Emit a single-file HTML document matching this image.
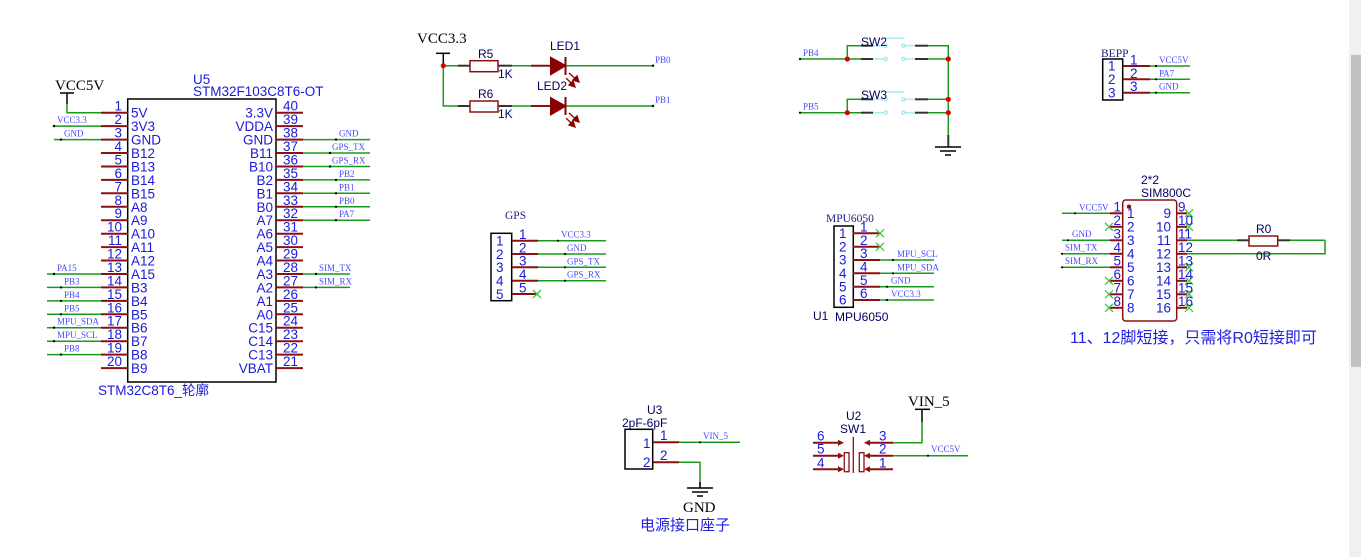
<!DOCTYPE html>
<html><head><meta charset="utf-8"><style>
html,body{margin:0;padding:0;background:#fff;width:1361px;height:557px;overflow:hidden}
svg{display:block}
.pn{font-family:"Liberation Sans",sans-serif;font-size:13.5px;fill:#1a1ad8}
.nm{font-family:"Liberation Sans",sans-serif;font-size:13.5px;fill:#1a1ad8}
.lb{font-family:"Liberation Serif",serif;font-size:9px;fill:#4a4aff}
.hd{font-family:"Liberation Serif",serif;font-size:11.5px;fill:#202080}
.bk{font-family:"Liberation Serif",serif;font-size:15px;fill:#000}
.dk{font-family:"Liberation Sans",sans-serif;font-size:12px;fill:#000060}
.cn{font-family:"Liberation Sans","Noto Sans CJK SC",sans-serif;fill:#2020e0}
.r{stroke:#8b1010;stroke-width:2;fill:none}
.g{stroke:#1a9a1a;stroke-width:1.5;fill:none}
.k{stroke:#000;stroke-width:1.5;fill:none}
.gy{stroke:#333;stroke-width:2;fill:none}
.cy{stroke:#a8ecf0;stroke-width:1.5;fill:none}
.x{stroke:#3ac83a;stroke-width:1.3}
</style></head><body>
<svg width="1361" height="557" xmlns="http://www.w3.org/2000/svg">
<rect x="1349" y="0" width="12" height="557" fill="#f0f0f0"/>
<rect x="1351" y="55" width="10" height="312" fill="#c1c1c1"/>

<!-- ===== STM32 ===== -->
<text class="bk" x="55" y="90">VCC5V</text>
<line class="k" x1="60" y1="93" x2="74" y2="93"/>
<line class="k" x1="67" y1="93" x2="67" y2="104"/>
<polyline class="g" points="67,104 67,112.7 101,112.7"/>
<text class="nm" x="193" y="84">U5</text>
<text class="nm" x="193" y="96">STM32F103C8T6-OT</text>
<rect x="127.7" y="99" width="148.3" height="283" fill="none" stroke="#000" stroke-width="1.5"/>
<text class="nm" x="98" y="395">STM32C8T6_轮廓</text>
<g class="r">
<line x1="101" y1="112.7" x2="128" y2="112.7"/><line x1="101" y1="126.1" x2="128" y2="126.1"/><line x1="101" y1="139.6" x2="128" y2="139.6"/><line x1="101" y1="153" x2="128" y2="153"/><line x1="101" y1="166.5" x2="128" y2="166.5"/><line x1="101" y1="179.9" x2="128" y2="179.9"/><line x1="101" y1="193.3" x2="128" y2="193.3"/><line x1="101" y1="206.8" x2="128" y2="206.8"/><line x1="101" y1="220.2" x2="128" y2="220.2"/><line x1="101" y1="233.7" x2="128" y2="233.7"/><line x1="101" y1="247.1" x2="128" y2="247.1"/><line x1="101" y1="260.5" x2="128" y2="260.5"/><line x1="101" y1="274" x2="128" y2="274"/><line x1="101" y1="287.4" x2="128" y2="287.4"/><line x1="101" y1="300.9" x2="128" y2="300.9"/><line x1="101" y1="314.3" x2="128" y2="314.3"/><line x1="101" y1="327.7" x2="128" y2="327.7"/><line x1="101" y1="341.2" x2="128" y2="341.2"/><line x1="101" y1="354.6" x2="128" y2="354.6"/><line x1="101" y1="368.1" x2="128" y2="368.1"/>
<line x1="276" y1="112.7" x2="303" y2="112.7"/><line x1="276" y1="126.1" x2="303" y2="126.1"/><line x1="276" y1="139.6" x2="303" y2="139.6"/><line x1="276" y1="153" x2="303" y2="153"/><line x1="276" y1="166.5" x2="303" y2="166.5"/><line x1="276" y1="179.9" x2="303" y2="179.9"/><line x1="276" y1="193.3" x2="303" y2="193.3"/><line x1="276" y1="206.8" x2="303" y2="206.8"/><line x1="276" y1="220.2" x2="303" y2="220.2"/><line x1="276" y1="233.7" x2="303" y2="233.7"/><line x1="276" y1="247.1" x2="303" y2="247.1"/><line x1="276" y1="260.5" x2="303" y2="260.5"/><line x1="276" y1="274" x2="303" y2="274"/><line x1="276" y1="287.4" x2="303" y2="287.4"/><line x1="276" y1="300.9" x2="303" y2="300.9"/><line x1="276" y1="314.3" x2="303" y2="314.3"/><line x1="276" y1="327.7" x2="303" y2="327.7"/><line x1="276" y1="341.2" x2="303" y2="341.2"/><line x1="276" y1="354.6" x2="303" y2="354.6"/><line x1="276" y1="368.1" x2="303" y2="368.1"/>
</g>
<g class="pn" text-anchor="end">
<text x="122" y="110.7">1</text><text x="122" y="124.1">2</text><text x="122" y="137.6">3</text><text x="122" y="151">4</text><text x="122" y="164.5">5</text><text x="122" y="177.9">6</text><text x="122" y="191.3">7</text><text x="122" y="204.8">8</text><text x="122" y="218.2">9</text><text x="122" y="231.7">10</text><text x="122" y="245.1">11</text><text x="122" y="258.5">12</text><text x="122" y="272">13</text><text x="122" y="285.4">14</text><text x="122" y="298.9">15</text><text x="122" y="312.3">16</text><text x="122" y="325.7">17</text><text x="122" y="339.2">18</text><text x="122" y="352.6">19</text><text x="122" y="366.1">20</text>
</g>
<g class="pn">
<text x="283" y="110.7">40</text><text x="283" y="124.1">39</text><text x="283" y="137.6">38</text><text x="283" y="151">37</text><text x="283" y="164.5">36</text><text x="283" y="177.9">35</text><text x="283" y="191.3">34</text><text x="283" y="204.8">33</text><text x="283" y="218.2">32</text><text x="283" y="231.7">31</text><text x="283" y="245.1">30</text><text x="283" y="258.5">29</text><text x="283" y="272">28</text><text x="283" y="285.4">27</text><text x="283" y="298.9">26</text><text x="283" y="312.3">25</text><text x="283" y="325.7">24</text><text x="283" y="339.2">23</text><text x="283" y="352.6">22</text><text x="283" y="366.1">21</text>
</g>
<g class="nm">
<text x="131" y="117.7">5V</text><text x="131" y="131.1">3V3</text><text x="131" y="144.6">GND</text><text x="131" y="158">B12</text><text x="131" y="171.5">B13</text><text x="131" y="184.9">B14</text><text x="131" y="198.3">B15</text><text x="131" y="211.8">A8</text><text x="131" y="225.2">A9</text><text x="131" y="238.7">A10</text><text x="131" y="252.1">A11</text><text x="131" y="265.5">A12</text><text x="131" y="279">A15</text><text x="131" y="292.4">B3</text><text x="131" y="305.9">B4</text><text x="131" y="319.3">B5</text><text x="131" y="332.7">B6</text><text x="131" y="346.2">B7</text><text x="131" y="359.6">B8</text><text x="131" y="373.1">B9</text>
</g>
<g class="nm" text-anchor="end">
<text x="273" y="117.7">3.3V</text><text x="273" y="131.1">VDDA</text><text x="273" y="144.6">GND</text><text x="273" y="158">B11</text><text x="273" y="171.5">B10</text><text x="273" y="184.9">B2</text><text x="273" y="198.3">B1</text><text x="273" y="211.8">B0</text><text x="273" y="225.2">A7</text><text x="273" y="238.7">A6</text><text x="273" y="252.1">A5</text><text x="273" y="265.5">A4</text><text x="273" y="279">A3</text><text x="273" y="292.4">A2</text><text x="273" y="305.9">A1</text><text x="273" y="319.3">A0</text><text x="273" y="332.7">C15</text><text x="273" y="346.2">C14</text><text x="273" y="359.6">C13</text><text x="273" y="373.1">VBAT</text>
</g>
<g class="g">
<line x1="54" y1="126.1" x2="101" y2="126.1"/><line x1="54" y1="139.6" x2="101" y2="139.6"/>
<line x1="47" y1="274" x2="101" y2="274"/><line x1="47" y1="287.4" x2="101" y2="287.4"/><line x1="47" y1="300.9" x2="101" y2="300.9"/><line x1="47" y1="314.3" x2="101" y2="314.3"/><line x1="47" y1="327.7" x2="101" y2="327.7"/><line x1="47" y1="341.2" x2="101" y2="341.2"/><line x1="47" y1="354.6" x2="101" y2="354.6"/>
<line x1="303" y1="139.6" x2="370" y2="139.6"/><line x1="303" y1="153" x2="370" y2="153"/><line x1="303" y1="166.5" x2="370" y2="166.5"/><line x1="303" y1="179.9" x2="370" y2="179.9"/><line x1="303" y1="193.3" x2="370" y2="193.3"/><line x1="303" y1="206.8" x2="370" y2="206.8"/><line x1="303" y1="220.2" x2="370" y2="220.2"/>
<line x1="303" y1="274" x2="350" y2="274"/><line x1="303" y1="287.4" x2="350" y2="287.4"/>
</g>
<g fill="#000">
<circle cx="54" cy="126.1" r="1.2"/><circle cx="61" cy="139.6" r="1.2"/><circle cx="54" cy="274" r="1.2"/><circle cx="61" cy="287.4" r="1.2"/><circle cx="61" cy="300.9" r="1.2"/><circle cx="61" cy="314.3" r="1.2"/><circle cx="54" cy="327.7" r="1.2"/><circle cx="54" cy="341.2" r="1.2"/><circle cx="61" cy="354.6" r="1.2"/>
<circle cx="336" cy="139.6" r="1.2"/><circle cx="330" cy="153" r="1.2"/><circle cx="330" cy="166.5" r="1.2"/><circle cx="336" cy="179.9" r="1.2"/><circle cx="336" cy="193.3" r="1.2"/><circle cx="336" cy="206.8" r="1.2"/><circle cx="336" cy="220.2" r="1.2"/><circle cx="316" cy="274" r="1.2"/><circle cx="316" cy="287.4" r="1.2"/>
</g>
<g class="lb">
<text x="57" y="123">VCC3.3</text><text x="64" y="136.5">GND</text>
<text x="57" y="271">PA15</text><text x="64" y="284.4">PB3</text><text x="64" y="297.9">PB4</text><text x="64" y="311.3">PB5</text><text x="57" y="324.7">MPU_SDA</text><text x="57" y="338.2">MPU_SCL</text><text x="64" y="351.6">PB8</text>
<text x="339" y="136.5">GND</text><text x="332" y="150">GPS_TX</text><text x="332" y="163.5">GPS_RX</text><text x="339" y="176.9">PB2</text><text x="339" y="190.3">PB1</text><text x="339" y="203.8">PB0</text><text x="339" y="217.2">PA7</text>
<text x="319" y="271">SIM_TX</text><text x="319" y="284.4">SIM_RX</text>
</g>

<!-- ===== LEDs ===== -->
<text class="bk" x="417" y="43">VCC3.3</text>
<line class="k" x1="436" y1="53.3" x2="450" y2="53.3"/>
<line class="k" x1="443.3" y1="53.3" x2="443.3" y2="65.7"/>
<polyline class="g" points="458,65.7 443.3,65.7 443.3,106 458,106"/>
<circle cx="443.3" cy="65.7" r="2.6" fill="#d00"/>
<g class="gy"><line x1="458" y1="65.7" x2="470" y2="65.7"/><line x1="498" y1="65.7" x2="512" y2="65.7"/><line x1="458" y1="106" x2="470" y2="106"/><line x1="498" y1="106" x2="512" y2="106"/></g>
<rect x="470" y="60.7" width="28" height="11" fill="none" stroke="#8b1010" stroke-width="1.5"/>
<rect x="470" y="101" width="28" height="11" fill="none" stroke="#8b1010" stroke-width="1.5"/>
<g class="g"><line x1="512" y1="65.7" x2="531" y2="65.7"/><line x1="512" y1="106" x2="531" y2="106"/><line x1="566" y1="65.7" x2="653" y2="65.7"/><line x1="566" y1="106" x2="653" y2="106"/></g>
<g class="r"><line x1="531" y1="65.7" x2="566" y2="65.7"/><line x1="531" y1="106" x2="566" y2="106"/></g>
<g fill="#8b0000" stroke="#8b0000" stroke-width="2">
<polygon points="551,58 551,74 565,65.7"/><line x1="565.5" y1="57" x2="565.5" y2="75"/>
<polygon points="551,98.3 551,114.3 565,106"/><line x1="565.5" y1="97" x2="565.5" y2="115"/>
</g>
<g stroke="#8b0000" stroke-width="1.3" fill="#8b0000">
<line x1="569" y1="73" x2="577" y2="80"/><polygon points="579,82 573,80 577,76"/>
<line x1="566" y1="78" x2="573" y2="85"/><polygon points="575,87 569,85 573,81"/>
<line x1="569" y1="113" x2="577" y2="120"/><polygon points="579,122 573,120 577,116"/>
<line x1="566" y1="118" x2="573" y2="125"/><polygon points="575,127 569,125 573,121"/>
</g>
<circle cx="653" cy="65.7" r="1.2"/><circle cx="653" cy="106" r="1.2"/>
<g class="dk" font-size="12"><text x="478" y="58">R5</text><text x="498" y="78">1K</text><text x="478" y="98">R6</text><text x="498" y="118">1K</text><text x="550" y="50">LED1</text><text x="537" y="90">LED2</text></g>
<g class="lb"><text x="655" y="63">PB0</text><text x="655" y="103">PB1</text></g>

<!-- ===== Switches ===== -->
<g class="g">
<line x1="800" y1="59" x2="861" y2="59"/><polyline points="847.3,59 847.3,45.7 861,45.7"/>
<polyline points="928,45.7 948.3,45.7 948.3,135"/><line x1="928" y1="59" x2="948.3" y2="59"/>
<line x1="800" y1="112.7" x2="861" y2="112.7"/><polyline points="847.3,112.7 847.3,99.3 861,99.3"/>
<line x1="928" y1="99.3" x2="948.3" y2="99.3"/><line x1="928" y1="112.7" x2="948.3" y2="112.7"/>
</g>
<g class="gy"><line x1="861" y1="45.7" x2="873" y2="45.7"/><line x1="861" y1="59" x2="873" y2="59"/><line x1="915" y1="45.7" x2="928" y2="45.7"/><line x1="915" y1="59" x2="928" y2="59"/>
<line x1="861" y1="99.3" x2="873" y2="99.3"/><line x1="861" y1="112.7" x2="873" y2="112.7"/><line x1="915" y1="99.3" x2="928" y2="99.3"/><line x1="915" y1="112.7" x2="928" y2="112.7"/>
<line x1="948.3" y1="135" x2="948.3" y2="147"/></g>
<g class="cy">
<line x1="873" y1="45.7" x2="884" y2="45.7"/><line x1="905" y1="45.7" x2="915" y2="45.7"/><circle cx="885.7" cy="45.7" r="1.6"/><circle cx="903.3" cy="45.7" r="1.6"/>
<line x1="873" y1="59" x2="884" y2="59"/><line x1="905" y1="59" x2="915" y2="59"/><circle cx="885.7" cy="59" r="1.6"/><circle cx="903.3" cy="59" r="1.6"/>
<line x1="873" y1="99.3" x2="884" y2="99.3"/><line x1="905" y1="99.3" x2="915" y2="99.3"/><circle cx="885.7" cy="99.3" r="1.6"/><circle cx="903.3" cy="99.3" r="1.6"/>
<line x1="873" y1="112.7" x2="884" y2="112.7"/><line x1="905" y1="112.7" x2="915" y2="112.7"/><circle cx="885.7" cy="112.7" r="1.6"/><circle cx="903.3" cy="112.7" r="1.6"/>
<line x1="885" y1="38.3" x2="904" y2="38.3"/><line x1="885" y1="92" x2="904" y2="92"/>
</g>
<g fill="#d00"><circle cx="847.3" cy="59" r="2.6"/><circle cx="948.3" cy="59" r="2.6"/><circle cx="948.3" cy="99.3" r="2.6"/><circle cx="948.3" cy="112.7" r="2.6"/><circle cx="847.3" cy="112.7" r="2.6"/></g>
<g class="k" stroke-width="1.3"><line x1="935" y1="147" x2="961" y2="147"/><line x1="940" y1="151" x2="956" y2="151"/><line x1="945" y1="155" x2="951" y2="155"/></g>
<circle cx="800" cy="59" r="1.1"/><circle cx="800" cy="112.7" r="1.1"/>
<g class="dk"><text x="861" y="46">SW2</text><text x="861" y="99">SW3</text></g>
<g class="lb"><text x="803" y="56">PB4</text><text x="803" y="109.7">PB5</text></g>

<!-- ===== BEPP ===== -->
<text class="hd" x="1101" y="57">BEPP</text>
<rect x="1102.7" y="59" width="20" height="41" fill="none" stroke="#000" stroke-width="1.5"/>
<g class="r"><line x1="1123" y1="66" x2="1150" y2="66"/><line x1="1123" y1="79.3" x2="1150" y2="79.3"/><line x1="1123" y1="92.7" x2="1150" y2="92.7"/></g>
<g class="g"><line x1="1150" y1="66" x2="1190" y2="66"/><line x1="1150" y1="79.3" x2="1190" y2="79.3"/><line x1="1150" y1="92.7" x2="1190" y2="92.7"/></g>
<g fill="#000"><circle cx="1156" cy="66" r="1.1"/><circle cx="1156" cy="79.3" r="1.1"/><circle cx="1156" cy="92.7" r="1.1"/></g>
<g class="pn"><text x="1108" y="70.5">1</text><text x="1108" y="84">2</text><text x="1108" y="97.5">3</text><text x="1130" y="64.5">1</text><text x="1130" y="77.8">2</text><text x="1130" y="91.2">3</text></g>
<g class="lb"><text x="1159" y="63">VCC5V</text><text x="1159" y="76.3">PA7</text><text x="1159" y="89.7">GND</text></g>

<!-- ===== SIM800C ===== -->
<text class="dk" x="1141" y="184">2*2</text>
<text class="dk" x="1141" y="197">SIM800C</text>
<rect x="1122.7" y="200" width="54" height="121" rx="3" fill="none" stroke="#8b1010" stroke-width="1.5"/>
<circle cx="1129" cy="206.7" r="2.2" fill="#8b1010"/>
<g class="r">
<line x1="1110" y1="213.3" x2="1123" y2="213.3"/><line x1="1110" y1="226.8" x2="1123" y2="226.8"/><line x1="1110" y1="240.3" x2="1123" y2="240.3"/><line x1="1110" y1="253.8" x2="1123" y2="253.8"/><line x1="1110" y1="267.3" x2="1123" y2="267.3"/><line x1="1110" y1="280.8" x2="1123" y2="280.8"/><line x1="1110" y1="294.3" x2="1123" y2="294.3"/><line x1="1110" y1="307.8" x2="1123" y2="307.8"/>
<line x1="1177" y1="213.3" x2="1187" y2="213.3"/><line x1="1177" y1="226.8" x2="1187" y2="226.8"/><line x1="1177" y1="240.3" x2="1187" y2="240.3"/><line x1="1177" y1="253.8" x2="1187" y2="253.8"/><line x1="1177" y1="267.3" x2="1187" y2="267.3"/><line x1="1177" y1="280.8" x2="1187" y2="280.8"/><line x1="1177" y1="294.3" x2="1187" y2="294.3"/><line x1="1177" y1="307.8" x2="1187" y2="307.8"/>
</g>
<g class="g">
<line x1="1062" y1="213.3" x2="1110" y2="213.3"/><line x1="1062" y1="240.3" x2="1110" y2="240.3"/><line x1="1062" y1="253.8" x2="1110" y2="253.8"/><line x1="1062" y1="267.3" x2="1110" y2="267.3"/>
<line x1="1187" y1="240.3" x2="1237" y2="240.3"/><line x1="1290" y1="240.3" x2="1325" y2="240.3"/><polyline points="1325,240.3 1325,253.8 1187,253.8"/>
</g>
<g class="gy"><line x1="1237" y1="240.3" x2="1249" y2="240.3"/><line x1="1278" y1="240.3" x2="1290" y2="240.3"/></g>
<rect x="1249" y="236" width="28.7" height="10" fill="none" stroke="#8b1010" stroke-width="1.5"/>
<g fill="#000"><circle cx="1075" cy="213.3" r="1.1"/><circle cx="1068" cy="240.3" r="1.1"/><circle cx="1062" cy="253.8" r="1.1"/><circle cx="1062" cy="267.3" r="1.1"/></g>
<g class="lb"><text x="1079" y="210.5">VCC5V</text><text x="1072" y="237">GND</text><text x="1065" y="250.5">SIM_TX</text><text x="1065" y="264">SIM_RX</text></g>
<g class="x">
<path d="M1105,222.8 l8,8 M1113,222.8 l-8,8"/><path d="M1105,276.8 l8,8 M1113,276.8 l-8,8"/><path d="M1105,290.3 l8,8 M1113,290.3 l-8,8"/><path d="M1105,303.8 l8,8 M1113,303.8 l-8,8"/>
<path d="M1185,209.3 l8,8 M1193,209.3 l-8,8"/><path d="M1185,222.8 l8,8 M1193,222.8 l-8,8"/><path d="M1185,263.3 l8,8 M1193,263.3 l-8,8"/><path d="M1185,276.8 l8,8 M1193,276.8 l-8,8"/><path d="M1185,290.3 l8,8 M1193,290.3 l-8,8"/><path d="M1185,303.8 l8,8 M1193,303.8 l-8,8"/>
</g>
<g class="pn">
<text x="1127" y="218">1</text><text x="1127" y="231.5">2</text><text x="1127" y="245">3</text><text x="1127" y="258.5">4</text><text x="1127" y="272">5</text><text x="1127" y="285.5">6</text><text x="1127" y="299">7</text><text x="1127" y="312.5">8</text>
<text x="1178" y="211.3">9</text><text x="1178" y="224.8">10</text><text x="1178" y="238.3">11</text><text x="1178" y="251.8">12</text><text x="1178" y="265.3">13</text><text x="1178" y="278.8">14</text><text x="1178" y="292.3">15</text><text x="1178" y="305.8">16</text>
</g>
<g class="pn" text-anchor="end">
<text x="1171" y="218">9</text><text x="1171" y="231.5">10</text><text x="1171" y="245">11</text><text x="1171" y="258.5">12</text><text x="1171" y="272">13</text><text x="1171" y="285.5">14</text><text x="1171" y="299">15</text><text x="1171" y="312.5">16</text>
<text x="1121" y="211.3">1</text><text x="1121" y="224.8">2</text><text x="1121" y="238.3">3</text><text x="1121" y="251.8">4</text><text x="1121" y="265.3">5</text><text x="1121" y="278.8">6</text><text x="1121" y="292.3">7</text><text x="1121" y="305.8">8</text>
</g>
<text class="dk" x="1256" y="233">R0</text><text class="dk" x="1256" y="260">0R</text>
<text class="cn" x="1070" y="343" font-size="16">11、12脚短接，只需将R0短接即可</text>

<!-- ===== GPS ===== -->
<text class="hd" x="505" y="219">GPS</text>
<rect x="491" y="233.3" width="20.7" height="67.4" fill="none" stroke="#000" stroke-width="1.5"/>
<g class="r"><line x1="512" y1="240.7" x2="538" y2="240.7"/><line x1="512" y1="254" x2="538" y2="254"/><line x1="512" y1="267.3" x2="538" y2="267.3"/><line x1="512" y1="280.7" x2="538" y2="280.7"/><line x1="512" y1="294" x2="537" y2="294"/></g>
<g class="g"><line x1="538" y1="240.7" x2="606" y2="240.7"/><line x1="538" y1="254" x2="606" y2="254"/><line x1="538" y1="267.3" x2="606" y2="267.3"/><line x1="538" y1="280.7" x2="606" y2="280.7"/></g>
<path class="x" d="M533,290 l8,8 M541,290 l-8,8"/>
<g fill="#000"><circle cx="558" cy="240.7" r="1.1"/><circle cx="565" cy="254" r="1.1"/><circle cx="565" cy="267.3" r="1.1"/><circle cx="565" cy="280.7" r="1.1"/></g>
<g class="pn"><text x="496" y="245.5">1</text><text x="496" y="258.8">2</text><text x="496" y="272">3</text><text x="496" y="285.5">4</text><text x="496" y="298.8">5</text><text x="519" y="239">1</text><text x="519" y="252.3">2</text><text x="519" y="265.6">3</text><text x="519" y="279">4</text><text x="519" y="292.3">5</text></g>
<g class="lb"><text x="561" y="237.5">VCC3.3</text><text x="567" y="251">GND</text><text x="567" y="264.3">GPS_TX</text><text x="567" y="277.7">GPS_RX</text></g>

<!-- ===== MPU6050 ===== -->
<text class="hd" x="826" y="222">MPU6050</text>
<rect x="834" y="226" width="19.3" height="81.3" fill="none" stroke="#000" stroke-width="1.5"/>
<g class="r"><line x1="853" y1="233.3" x2="880" y2="233.3"/><line x1="853" y1="246.7" x2="880" y2="246.7"/><line x1="853" y1="260" x2="880" y2="260"/><line x1="853" y1="273.3" x2="880" y2="273.3"/><line x1="853" y1="286.7" x2="880" y2="286.7"/><line x1="853" y1="300" x2="880" y2="300"/></g>
<g class="g"><line x1="880" y1="260" x2="934" y2="260"/><line x1="880" y1="273.3" x2="934" y2="273.3"/><line x1="880" y1="286.7" x2="934" y2="286.7"/><line x1="880" y1="300" x2="934" y2="300"/></g>
<g class="x"><path d="M876,229.3 l8,8 M884,229.3 l-8,8"/><path d="M876,242.7 l8,8 M884,242.7 l-8,8"/></g>
<g fill="#000"><circle cx="893" cy="260" r="1.1"/><circle cx="893" cy="273.3" r="1.1"/><circle cx="887" cy="286.7" r="1.1"/><circle cx="887" cy="300" r="1.1"/></g>
<g class="pn"><text x="839" y="238">1</text><text x="839" y="251.4">2</text><text x="839" y="264.7">3</text><text x="839" y="278">4</text><text x="839" y="291.4">5</text><text x="839" y="304.7">6</text><text x="860" y="231.5">1</text><text x="860" y="244.9">2</text><text x="860" y="258.2">3</text><text x="860" y="271.5">4</text><text x="860" y="284.9">5</text><text x="860" y="298.2">6</text></g>
<g class="lb"><text x="897" y="257">MPU_SCL</text><text x="897" y="270.3">MPU_SDA</text><text x="891" y="283.7">GND</text><text x="891" y="297">VCC3.3</text></g>
<text class="dk" x="813" y="320">U1</text><text class="dk" x="835" y="321">MPU6050</text>

<!-- ===== U3 ===== -->
<text class="dk" x="647" y="414">U3</text><text class="dk" x="622" y="427">2pF-6pF</text>
<rect x="625" y="429.3" width="27.7" height="39.7" fill="none" stroke="#000" stroke-width="1.5"/>
<g class="r"><line x1="653" y1="442.3" x2="679" y2="442.3"/><line x1="653" y1="462.3" x2="679" y2="462.3"/></g>
<g class="g"><line x1="679" y1="442.3" x2="740" y2="442.3"/><polyline points="679,462.3 700,462.3 700,482"/></g>
<line class="gy" x1="700" y1="482" x2="700" y2="488"/>
<g class="k" stroke-width="1.3"><line x1="687" y1="488" x2="713" y2="488"/><line x1="692" y1="492" x2="708" y2="492"/><line x1="697" y1="496" x2="703" y2="496"/></g>
<circle cx="700" cy="442.3" r="1.1"/>
<g class="pn"><text x="643" y="448">1</text><text x="643" y="467">2</text><text x="660" y="440">1</text><text x="660" y="460">2</text></g>
<text class="lb" x="703" y="439">VIN_5</text>
<text class="bk" x="683" y="512">GND</text>
<text class="cn" x="640" y="530" font-size="15">电源接口座子</text>

<!-- ===== U2 SW1 ===== -->
<text class="bk" x="908" y="406">VIN_5</text>
<line class="k" x1="915" y1="409.3" x2="930" y2="409.3"/>
<line class="k" x1="922" y1="409.3" x2="922" y2="422"/>
<polyline class="g" points="922,422 922,442.7 893,442.7"/>
<line class="g" x1="893" y1="455.7" x2="968" y2="455.7"/>
<circle cx="928" cy="455.7" r="1.1"/>
<text class="lb" x="931" y="452">VCC5V</text>
<g class="r"><line x1="813" y1="442.7" x2="840" y2="442.7"/><line x1="813" y1="455.7" x2="840" y2="455.7"/><line x1="813" y1="469.3" x2="840" y2="469.3"/>
<line x1="868" y1="442.7" x2="893" y2="442.7"/><line x1="868" y1="455.7" x2="893" y2="455.7"/><line x1="868" y1="469.3" x2="893" y2="469.3"/></g>
<g fill="#8b1010"><polygon points="838,439.7 844,442.7 838,445.7"/><polygon points="838,452.7 844,455.7 838,458.7"/><polygon points="838,466.3 844,469.3 838,472.3"/>
<polygon points="870,439.7 864,442.7 870,445.7"/><polygon points="870,452.7 864,455.7 870,458.7"/><polygon points="870,466.3 864,469.3 870,472.3"/></g>
<line x1="853.3" y1="437" x2="853.3" y2="473" stroke="#8b1010" stroke-width="1.3"/>
<rect x="844.3" y="452.7" width="4.7" height="19" fill="none" stroke="#8b1010" stroke-width="1.3"/>
<rect x="859.3" y="452.7" width="4.7" height="19" fill="none" stroke="#8b1010" stroke-width="1.3"/>
<g class="pn"><text x="817" y="440.7">6</text><text x="817" y="453.7">5</text><text x="817" y="467.3">4</text><text x="879" y="440.7">3</text><text x="879" y="453.7">2</text><text x="879" y="467.3">1</text></g>
<text class="dk" x="846" y="420">U2</text><text class="dk" x="840" y="433">SW1</text>
</svg>
</body></html>
